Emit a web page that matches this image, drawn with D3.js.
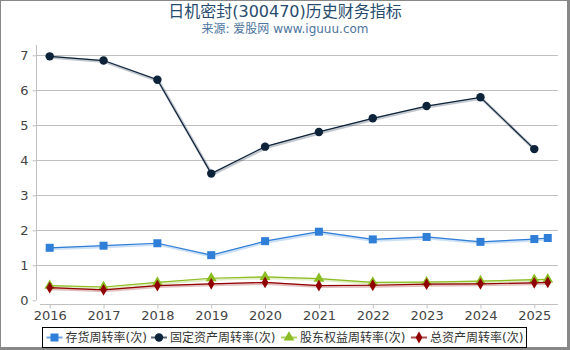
<!DOCTYPE html>
<html>
<head>
<meta charset="utf-8">
<script src="https://cdn.jsdelivr.net/npm/d3@7"></script>
<style>
  body { margin: 0; background: #fff; }
  svg { display: block; font-family: "DejaVu Sans", "Noto Sans CJK SC", sans-serif; }
</style>
</head>
<body>
<div id="chart"></div>
<script>
// periods (last one is a partial-year point after 2025)
const periods = [2016, 2017, 2018, 2019, 2020, 2021, 2022, 2023, 2024, 2025, 2025.25];
const xTicks = [2016, 2017, 2018, 2019, 2020, 2021, 2022, 2023, 2024, 2025];
const yTicks = [0, 1, 2, 3, 4, 5, 6, 7];

const inventoryTurnover = [1.50, 1.56, 1.63, 1.29, 1.69, 1.96, 1.74, 1.81, 1.67, 1.75, 1.78];
const fixedAssetTurnover = [6.97, 6.85, 6.30, 3.62, 4.39, 4.81, 5.20, 5.55, 5.80, 4.32, null];
const equityTurnover = [0.42, 0.38, 0.51, 0.63, 0.67, 0.62, 0.51, 0.52, 0.55, 0.59, 0.60];
const totalAssetTurnover = [0.36, 0.30, 0.42, 0.47, 0.51, 0.42, 0.43, 0.46, 0.47, 0.50, 0.51];

const seriesNames = ["存货周转率(次)", "固定资产周转率(次)", "股东权益周转率(次)", "总资产周转率(次)"];
const seriesColors = ["#2f7ed8", "#0d233a", "#8bbc21", "#910000"];
const seriesSymbols = ["square", "circle", "triangle", "diamond"];
const seriesValues = [inventoryTurnover, fixedAssetTurnover, equityTurnover, totalAssetTurnover];

const width = 570, height = 350;
const svg = d3.select("#chart").append("svg")
    .attr("width", width)
    .attr("height", height);

// frame
svg.append("rect").attr("x", 0).attr("y", 0).attr("width", width).attr("height", height).attr("fill", "#888");
svg.append("rect").attr("x", 1).attr("y", 1).attr("width", width - 4).attr("height", height - 4).attr("fill", "#fff");

// titles
svg.append("text")
    .attr("x", 285).attr("y", 17)
    .attr("text-anchor", "middle")
    .style("font-size", "16px")
    .style("fill", "#274b6d")
    .text("日机密封(300470)历史财务指标");
svg.append("text")
    .attr("x", 285).attr("y", 33)
    .attr("text-anchor", "middle")
    .style("font-size", "12px")
    .style("fill", "#4d759e")
    .text("来源: 爱股网 www.iguuu.com");

// scales
const x = d3.scaleLinear().domain([2016, 2025]).range([49.7, 534.3]);
const y = d3.scaleLinear().domain([0, 7]).range([300.3, 55.3]);
const plotLeft = 37, plotRight = 558;

// grid lines
svg.append("g")
    .selectAll("line")
    .data(yTicks.filter(d => d > 0))
    .join("line")
    .attr("x1", plotLeft).attr("x2", plotRight)
    .attr("y1", d => Math.round(y(d)) + 0.5).attr("y2", d => Math.round(y(d)) + 0.5)
    .attr("stroke", "#c0c0c0")
    .attr("stroke-width", 1);

// y axis
const yAxis = svg.append("g")
    .attr("transform", "translate(36.5,0)")
    .call(d3.axisLeft(y).tickValues(yTicks).tickSize(4).tickPadding(4).tickFormat(d3.format("d")));
yAxis.select(".domain").attr("stroke", "#c0c0c0").attr("d", "M0,45V300");
yAxis.selectAll(".tick line").attr("stroke", "#c0c0c0");
yAxis.selectAll(".tick text").style("font-size", "13px").style("fill", "#444").style("font-family", "DejaVu Sans, sans-serif");

// x axis
const xAxis = svg.append("g")
    .attr("transform", "translate(0,304.5)")
    .call(d3.axisBottom(x).tickValues(xTicks).tickSize(4).tickPadding(2).tickFormat(d3.format("d")));
xAxis.select(".domain").attr("stroke", "#c0c0c0").attr("d", `M40,0H${plotRight}`);
xAxis.selectAll(".tick line").attr("stroke", "#c0c0c0");
xAxis.selectAll(".tick text").style("font-size", "13px").style("fill", "#444").style("font-family", "DejaVu Sans, sans-serif");

const symbolTypes = {
    square: d3.symbolSquare,
    circle: d3.symbolCircle,
    triangle: d3.symbolTriangle,
    diamond: d3.symbolDiamond
};
const symbolSizes = { square: 64, circle: 56, triangle: 50, diamond: 40 };

function drawSymbol(g, kind, color, cx, cy) {
    g.append("path")
        .attr("d", d3.symbol().type(symbolTypes[kind]).size(symbolSizes[kind])())
        .attr("transform", `translate(${cx},${cy})`)
        .attr("fill", color);
}

// series
seriesValues.forEach((vals, i) => {
    const pts = periods.map((p, j) => [p, vals[j]]).filter(d => d[1] != null);
    const line = d3.line().x(d => x(d[0])).y(d => y(d[1]));
    const g = svg.append("g");
    // soft shadow
    g.append("path")
        .attr("d", line(pts))
        .attr("fill", "none")
        .attr("stroke", seriesColors[i])
        .attr("stroke-opacity", 0.25)
        .attr("stroke-width", 3)
        .attr("transform", "translate(1,1)");
    g.append("path")
        .attr("d", line(pts))
        .attr("fill", "none")
        .attr("stroke", seriesColors[i])
        .attr("stroke-width", 1.2);
    pts.forEach(d => drawSymbol(g, seriesSymbols[i], seriesColors[i], x(d[0]), y(d[1])));
});

// legend
const legend = svg.append("g");
legend.append("rect")
    .attr("x", 42.5).attr("y", 327.5)
    .attr("width", 484).attr("height", 20)
    .attr("fill", "#fff")
    .attr("stroke", "#000")
    .attr("stroke-width", 1);
const legendX = [54.5, 159, 289, 419];
seriesNames.forEach((name, i) => {
    const lg = legend.append("g");
    lg.append("line")
        .attr("x1", legendX[i] - 8).attr("x2", legendX[i] + 8)
        .attr("y1", 337.5).attr("y2", 337.5)
        .attr("stroke", seriesColors[i])
        .attr("stroke-opacity", 0.7)
        .attr("stroke-width", 2);
    drawSymbol(lg, seriesSymbols[i], seriesColors[i], legendX[i], 337.5);
    lg.append("text")
        .attr("x", legendX[i] + 11).attr("y", 342)
        .style("font-size", "12px")
        .style("fill", "#333")
        .text(name);
});
</script>
</body>
</html>
